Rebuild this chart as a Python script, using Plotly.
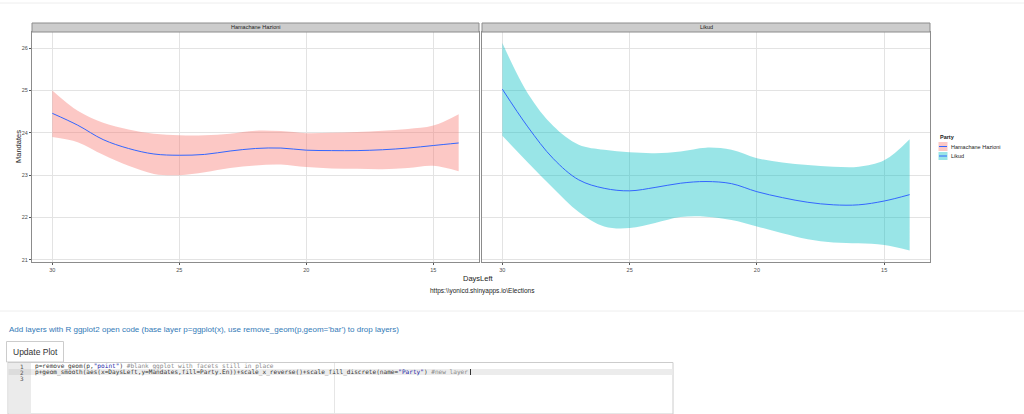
import plotly.graph_objects as go

# ---------------- data ----------------
days = [30, 29, 28, 27, 26, 25, 24, 23, 22, 21, 20, 19, 18, 17, 16, 15, 14]

hazioni_mean = [24.46, 24.18, 23.84, 23.63, 23.50, 23.47, 23.49, 23.57, 23.63,
                23.64, 23.59, 23.58, 23.58, 23.60, 23.64, 23.70, 23.76]
hazioni_upper = [25.00, 24.52, 24.24, 24.08, 23.98, 23.94, 23.94, 23.98, 24.05,
                 24.04, 23.99, 24.00, 24.02, 24.05, 24.09, 24.17, 24.44]
hazioni_lower = [23.90, 23.78, 23.48, 23.22, 23.03, 23.00, 23.07, 23.17, 23.23,
                 23.25, 23.19, 23.16, 23.15, 23.14, 23.17, 23.22, 23.09]

likud_mean = [25.03, 24.14, 23.39, 22.89, 22.69, 22.63, 22.71, 22.81, 22.85,
              22.80, 22.61, 22.47, 22.36, 22.30, 22.30, 22.39, 22.54]
likud_upper = [26.12, 24.93, 24.16, 23.72, 23.60, 23.54, 23.52, 23.56, 23.65,
               23.60, 23.40, 23.30, 23.24, 23.20, 23.20, 23.35, 23.85]
likud_lower = [23.93, 23.30, 22.69, 22.13, 21.79, 21.75, 21.87, 22.01, 22.02,
               21.94, 21.79, 21.63, 21.49, 21.41, 21.39, 21.35, 21.22]

parties = ["Hamachane Hazioni", "Likud"]
fills = ["rgba(248,118,109,0.4)", "rgba(0,191,196,0.4)"]
line_color = "#3366FF"

x_ticks = [30, 25, 20, 15]
y_ticks = [21, 22, 23, 24, 25, 26]

x_title = "DaysLeft"
y_title = "Mandates"
legend_title = "Party"
caption = "https:\\\\yonicd.shinyapps.io\\Elections"
ui_text = ("Add layers with R ggplot2 open code (base layer p=ggplot(x), "
           "use remove_geom(p,geom='bar') to drop layers)")
button_text = "Update Plot"
code_lines = [
    'p=remove_geom(p,<span style="color:#1a1aa6">"point"</span>) '
    '<span style="color:#8a8a8a">#blank ggplot with facets still in place</span>',
    'p+geom_smooth(aes(x=DaysLeft,y=Mandates,fill=Party.En))+scale_x_reverse()'
    '+scale_fill_discrete(name=<span style="color:#1a1aa6">"Party"</span>) '
    '<span style="color:#8a8a8a">#new layer</span>',
    '',
]

# ---------------- helpers ----------------
W, H = 1024, 414


def px(x):
    return x / W


def py(y):
    return 1 - y / H


FONT = "Liberation Sans, Arial, sans-serif"
MONO = "DejaVu Sans Mono, monospace"

fig = go.Figure()

series = [
    (hazioni_mean, hazioni_upper, hazioni_lower, "x", "y"),
    (likud_mean, likud_upper, likud_lower, "x2", "y2"),
]
for i, (m, u, lo, xa, ya) in enumerate(series):
    fig.add_trace(go.Scatter(x=days, y=u, mode="lines", line=dict(width=0, shape="spline"),
                             xaxis=xa, yaxis=ya, hoverinfo="skip", showlegend=False))
    fig.add_trace(go.Scatter(x=days, y=lo, mode="lines", line=dict(width=0, shape="spline"),
                             fill="tonexty", fillcolor=fills[i],
                             xaxis=xa, yaxis=ya, hoverinfo="skip", showlegend=False))
    fig.add_trace(go.Scatter(x=days, y=m, mode="lines",
                             line=dict(width=1, color=line_color, shape="spline"),
                             xaxis=xa, yaxis=ya, name=parties[i], showlegend=False))

panel_top, panel_bot = 32, 262
ydom = [py(panel_bot), py(panel_top)]
left_dom = [px(32), px(479)]
right_dom = [px(482), px(930)]

axis_common = dict(showgrid=True, gridcolor="#e3e3e3", gridwidth=1, zeroline=False,
                   showline=True, mirror=True, linecolor="#8c8c8c", linewidth=1,
                   ticks="outside", ticklen=2, tickcolor="#555",
                   tickfont=dict(size=5.5, color="#4d4d4d", family=FONT))

fig.update_layout(
    width=W, height=H, margin=dict(l=0, r=0, t=0, b=0),
    paper_bgcolor="white", plot_bgcolor="white", showlegend=False,
    xaxis=dict(domain=left_dom, range=[30.8, 13.2], tickvals=x_ticks, anchor="y", **axis_common),
    yaxis=dict(domain=ydom, range=[20.95, 26.38], tickvals=y_ticks, anchor="x", **axis_common),
    xaxis2=dict(domain=right_dom, range=[30.8, 13.2], tickvals=x_ticks, anchor="y2", **axis_common),
    yaxis2=dict(domain=ydom, range=[20.95, 26.38], tickvals=y_ticks, anchor="x2",
                matches="y", **{**axis_common, "ticks": "", "showticklabels": False}),
)

shapes = []
annotations = []

# page top rule
shapes.append(dict(type="line", xref="paper", yref="paper", x0=0, x1=1, y0=py(3), y1=py(3),
                   line=dict(color="#eeeeee", width=1)))

# facet strips
for dom, label in zip([left_dom, right_dom], parties):
    shapes.append(dict(type="rect", xref="paper", yref="paper", x0=dom[0], x1=dom[1],
                       y0=py(32), y1=py(23), fillcolor="#cccccc",
                       line=dict(color="#8c8c8c", width=1), layer="above"))
    annotations.append(dict(xref="paper", yref="paper", x=(dom[0] + dom[1]) / 2, y=py(27.5),
                            text=label, showarrow=False, xanchor="center", yanchor="middle",
                            font=dict(size=5.5, color="#1a1a1a", family=FONT)))

# axis titles / caption
annotations.append(dict(xref="paper", yref="paper", x=px(478), y=py(278), text=x_title,
                        showarrow=False, xanchor="center", yanchor="middle",
                        font=dict(size=7.5, color="#222", family=FONT)))
annotations.append(dict(xref="paper", yref="paper", x=px(18), y=py(147), text=y_title,
                        showarrow=False, xanchor="center", yanchor="middle", textangle=-90,
                        font=dict(size=7.5, color="#222", family=FONT)))
annotations.append(dict(xref="paper", yref="paper", x=px(482), y=py(290.5), text=caption,
                        showarrow=False, xanchor="center", yanchor="middle",
                        font=dict(size=6.5, color="#222", family=FONT)))

# legend (drawn manually)
annotations.append(dict(xref="paper", yref="paper", x=px(937.5), y=py(137), text="<b>" + legend_title + "</b>",
                        showarrow=False, xanchor="left", yanchor="middle",
                        font=dict(size=5.5, color="#222", family=FONT)))
key_rows = [(142, 151), (152, 160)]
for (k0, k1), label, fc in zip(key_rows, parties, fills):
    shapes.append(dict(type="rect", xref="paper", yref="paper", x0=px(938.5), x1=px(947.5),
                       y0=py(k1), y1=py(k0), fillcolor=fc, line=dict(width=0)))
    ym = (k0 + k1) / 2
    shapes.append(dict(type="line", xref="paper", yref="paper", x0=px(939), x1=px(947),
                       y0=py(ym), y1=py(ym), line=dict(color=line_color, width=1)))
    annotations.append(dict(xref="paper", yref="paper", x=px(948.5), y=py(ym), text=label,
                            showarrow=False, xanchor="left", yanchor="middle",
                            font=dict(size=5.5, color="#222", family=FONT)))

# ---------------- shiny UI below the plot ----------------
shapes.append(dict(type="line", xref="paper", yref="paper", x0=0, x1=1, y0=py(311), y1=py(311),
                   line=dict(color="#eeeeee", width=1)))
annotations.append(dict(xref="paper", yref="paper", x=px(7), y=py(329), text=ui_text,
                        showarrow=False, xanchor="left", yanchor="middle",
                        font=dict(size=8, color="#337ab7", family=FONT)))
# button
shapes.append(dict(type="rect", xref="paper", yref="paper", x0=px(6.5), x1=px(63.5),
                   y0=py(362), y1=py(341.5), fillcolor="white",
                   line=dict(color="#cccccc", width=1)))
annotations.append(dict(xref="paper", yref="paper", x=px(35), y=py(352), text=button_text,
                        showarrow=False, xanchor="center", yanchor="middle",
                        font=dict(size=8.5, color="#333333", family=FONT)))
# code editor
shapes.append(dict(type="rect", xref="paper", yref="paper", x0=px(8), x1=px(673),
                   y0=py(414), y1=py(362.5), fillcolor="white",
                   line=dict(color="#cccccc", width=1)))
shapes.append(dict(type="rect", xref="paper", yref="paper", x0=px(8.5), x1=px(31),
                   y0=py(413.5), y1=py(363), fillcolor="#ebebeb", line=dict(width=0)))
shapes.append(dict(type="rect", xref="paper", yref="paper", x0=px(31), x1=px(672.5),
                   y0=py(375), y1=py(369), fillcolor="#ececec", line=dict(width=0)))
shapes.append(dict(type="rect", xref="paper", yref="paper", x0=px(8.5), x1=px(31),
                   y0=py(375), y1=py(369), fillcolor="#dcdcdc", line=dict(width=0)))
shapes.append(dict(type="line", xref="paper", yref="paper", x0=px(334.5), x1=px(334.5),
                   y0=py(413.5), y1=py(363), line=dict(color="#e6e6e6", width=1)))
line_y = [366, 372, 378]
for n, (ly, txt) in enumerate(zip(line_y, code_lines), start=1):
    annotations.append(dict(xref="paper", yref="paper", x=px(26), y=py(ly), text=str(n),
                            showarrow=False, xanchor="right", yanchor="middle",
                            font=dict(size=6, color="#555", family=MONO)))
    if txt:
        annotations.append(dict(xref="paper", yref="paper", x=px(32.5), y=py(ly), text=txt,
                                showarrow=False, xanchor="left", yanchor="middle",
                                font=dict(size=6.1, color="#333333", family=MONO)))
# text cursor
shapes.append(dict(type="line", xref="paper", yref="paper", x0=px(470.5), x1=px(470.5),
                   y0=py(375), y1=py(369), line=dict(color="#333", width=1)))

fig.update_layout(shapes=shapes, annotations=annotations)
fig.write_html("out.html", config={"displayModeBar": False},
               post_script="document.body.style.margin='0';document.body.style.overflow='hidden';")
